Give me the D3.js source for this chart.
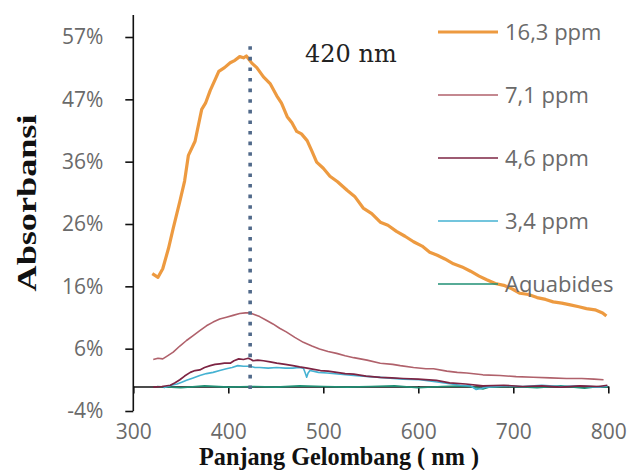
<!DOCTYPE html>
<html>
<head>
<meta charset="utf-8">
<script src="https://cdn.jsdelivr.net/npm/d3@7"></script>
<style>
  body { margin: 0; background: #fff; }
  svg { display: block; }
</style>
</head>
<body>
<div class="chart"></div>
<script>
// wavelength (nm) and absorbance per sample
var nm163 = [320, 326, 331, 337, 342, 349, 354, 358, 365, 372, 376, 381, 386, 390, 396, 402, 407, 412, 416, 419, 425, 430, 437, 444, 451, 456, 462, 467, 472, 477, 483, 488, 493, 500, 507, 515, 525, 533, 542, 551, 560, 568, 577, 586, 595, 604, 612, 620, 628, 637, 646, 655, 664, 672, 681, 690, 699, 707, 716, 725, 734, 742, 751, 760, 769, 777, 786, 794, 798];
var abs163 = [0.184, 0.178, 0.192, 0.225, 0.258, 0.302, 0.335, 0.377, 0.400, 0.452, 0.462, 0.483, 0.500, 0.514, 0.520, 0.528, 0.532, 0.538, 0.536, 0.539, 0.527, 0.520, 0.505, 0.494, 0.474, 0.462, 0.440, 0.430, 0.416, 0.412, 0.401, 0.384, 0.366, 0.356, 0.343, 0.334, 0.320, 0.310, 0.291, 0.282, 0.268, 0.263, 0.253, 0.245, 0.236, 0.229, 0.219, 0.214, 0.208, 0.200, 0.195, 0.188, 0.180, 0.174, 0.168, 0.165, 0.159, 0.152, 0.150, 0.145, 0.142, 0.138, 0.136, 0.133, 0.130, 0.127, 0.125, 0.120, 0.115];

var nm71 = [321, 326, 331, 336, 342, 349, 356, 363, 370, 377, 384, 391, 398, 405, 412, 418, 423, 428, 433, 440, 447, 454, 461, 470, 479, 488, 496, 505, 514, 523, 532, 546, 560, 573, 581, 595, 608, 616, 630, 641, 651, 668, 686, 703, 721, 739, 756, 772, 785, 795];
var abs71 = [0.044, 0.046, 0.045, 0.050, 0.056, 0.066, 0.075, 0.083, 0.091, 0.099, 0.105, 0.110, 0.113, 0.116, 0.119, 0.120, 0.120, 0.117, 0.114, 0.108, 0.102, 0.095, 0.089, 0.080, 0.072, 0.066, 0.061, 0.057, 0.054, 0.050, 0.047, 0.043, 0.038, 0.036, 0.034, 0.031, 0.029, 0.029, 0.025, 0.023, 0.022, 0.019, 0.018, 0.016, 0.015, 0.014, 0.013, 0.013, 0.012, 0.011];

var nm46 = [321, 330, 339, 344, 349, 354, 360, 365, 370, 375, 381, 386, 391, 396, 402, 406, 411, 416, 421, 424, 426, 431, 437, 444, 451, 460, 468, 475, 483, 490, 497, 505, 514, 523, 532, 545, 560, 572, 584, 600, 619, 633, 650, 668, 690, 710, 730, 750, 770, 790, 799];
var abs46 = [-0.001, 0.000, 0.002, 0.006, 0.011, 0.017, 0.023, 0.026, 0.027, 0.031, 0.034, 0.036, 0.037, 0.038, 0.038, 0.042, 0.045, 0.044, 0.046, 0.044, 0.042, 0.043, 0.042, 0.040, 0.038, 0.036, 0.034, 0.032, 0.030, 0.028, 0.026, 0.025, 0.023, 0.021, 0.020, 0.017, 0.015, 0.014, 0.013, 0.012, 0.010, 0.006, 0.004, 0.001, 0.002, 0.000, 0.001, -0.001, 0.001, 0.000, 0.002];

var nm34 = [332, 340, 346, 351, 356, 363, 370, 377, 384, 391, 398, 404, 410, 416, 423, 428, 433, 442, 451, 460, 468, 474, 479, 481, 482.5, 484, 486, 495, 504, 518, 532, 549, 567, 584, 602, 622, 644, 655, 661, 667, 672, 690, 710, 730, 750, 770, 790, 799];
var abs34 = [-0.002, 0.002, 0.004, 0.007, 0.010, 0.014, 0.018, 0.021, 0.023, 0.026, 0.029, 0.031, 0.034, 0.033, 0.033, 0.031, 0.031, 0.030, 0.031, 0.030, 0.030, 0.031, 0.030, 0.022, 0.015, 0.022, 0.026, 0.023, 0.022, 0.020, 0.018, 0.016, 0.014, 0.012, 0.011, 0.007, 0.002, 0.001, -0.005, -0.003, -0.001, 0.001, 0.000, 0.002, 0.000, 0.001, -0.001, 0.001];

var nmAq = [325, 350, 375, 400, 425, 450, 475, 500, 525, 550, 575, 600, 625, 650, 668, 675, 700, 725, 750, 775, 790, 799];
var absAq = [0.000, -0.002, 0.001, -0.001, 0.000, -0.001, 0.001, 0.000, -0.001, 0.000, 0.001, -0.002, 0.000, 0.001, -0.004, -0.001, 0.000, -0.002, 0.001, -0.003, 0.000, -0.001];

var seriesNames = ["16,3 ppm", "7,1 ppm", "4,6 ppm", "3,4 ppm", "Aquabides"];
var xTicks = [300, 400, 500, 600, 700, 800];
var yTickLabels = ["-4%", "6%", "16%", "26%", "36%", "47%", "57%"];
var peakNm = 423;
var peakLabel = "420 nm";

var width = 635, height = 470;

var series = [
  {name: seriesNames[0], nm: nm163, abs: abs163, color: "#ED9A40", w: 3.2},
  {name: seriesNames[1], nm: nm71, abs: abs71, color: "#B0616B", w: 1.6},
  {name: seriesNames[2], nm: nm46, abs: abs46, color: "#7D2443", w: 1.7},
  {name: seriesNames[3], nm: nm34, abs: abs34, color: "#45B2D2", w: 1.6},
  {name: seriesNames[4], nm: nmAq, abs: absAq, color: "#1F8F74", w: 1.6}
];

var svg = d3.select(".chart")
  .append("svg")
    .attr("width", width)
    .attr("height", height);

var x = d3.scaleLinear().domain([300, 800]).range([133.3, 608.3]);
var y = d3.scaleLinear().domain([-0.04, 0.57]).range([411, 37]);

var yTickVals = d3.range(yTickLabels.length).map(function(i) {
  return -0.04 + i * (0.61 / (yTickLabels.length - 1));
});

// y axis
var yAxis = svg.append("g")
  .attr("transform", "translate(" + x(300) + ",0)")
  .call(d3.axisLeft(y)
    .tickValues(yTickVals)
    .tickFormat(function(d, i) { return yTickLabels[i]; })
    .tickSize(8)
    .tickSizeOuter(0)
    .tickPadding(22));
yAxis.select(".domain").remove();
yAxis.selectAll("line").attr("stroke", "#111").attr("stroke-width", 1.6);
yAxis.selectAll("text")
  .style("font-family", "'Open Sans', sans-serif")
  .style("font-size", "21px")
  .attr("fill", "#6a6a6a");

svg.append("line")
  .attr("x1", x(300)).attr("x2", x(300))
  .attr("y1", 15).attr("y2", y(-0.04))
  .attr("stroke", "#111")
  .attr("stroke-width", 1.6);

// x axis on the zero line
var xAxis = svg.append("g")
  .attr("transform", "translate(0," + y(0) + ")")
  .call(d3.axisBottom(x)
    .tickValues(xTicks)
    .tickSize(7)
    .tickSizeOuter(0)
    .tickPadding(31));
xAxis.select(".domain").attr("stroke", "#111").attr("stroke-width", 1.6);
xAxis.selectAll("line").attr("stroke", "#111").attr("stroke-width", 1.6);
xAxis.selectAll("text")
  .style("font-family", "'Open Sans', sans-serif")
  .style("font-size", "21px")
  .attr("fill", "#6a6a6a");

// spectra
var line = d3.line()
  .x(function(d) { return x(d[0]); })
  .y(function(d) { return y(d[1]); });

svg.selectAll(".spectrum")
  .data(series.slice().reverse())
  .enter().append("path")
    .attr("class", "spectrum")
    .attr("d", function(s) { return line(d3.zip(s.nm, s.abs)); })
    .attr("fill", "none")
    .attr("stroke", function(s) { return s.color; })
    .attr("stroke-width", function(s) { return s.w; })
    .attr("stroke-linejoin", "round");

// peak marker
svg.append("line")
  .attr("x1", x(peakNm)).attr("x2", x(peakNm))
  .attr("y1", y(0.555)).attr("y2", y(-0.005))
  .attr("stroke", "#50698A")
  .attr("stroke-width", 3.6)
  .attr("stroke-dasharray", "3.6,7");

svg.append("text")
  .attr("x", 305)
  .attr("y", 62)
  .style("font-family", "'DejaVu Serif', serif")
  .style("font-size", "24px")
  .attr("fill", "#222")
  .text(peakLabel);

// legend
var legend = svg.selectAll(".legend")
  .data(series)
  .enter().append("g")
    .attr("class", "legend")
    .attr("transform", function(d, i) { return "translate(438," + (32 + i * 63) + ")"; });

legend.append("line")
  .attr("x1", 0).attr("x2", 60)
  .attr("stroke", function(d) { return d.color; })
  .attr("stroke-width", function(d) { return d.w; });

legend.append("text")
  .attr("x", 67)
  .attr("dy", "0.35em")
  .style("font-family", "'Open Sans', sans-serif")
  .style("font-size", "22px")
  .attr("fill", "#6a6a6a")
  .text(function(d) { return d.name; });

// axis titles
svg.append("text")
  .attr("x", 339)
  .attr("y", 465)
  .attr("text-anchor", "middle")
  .attr("textLength", 280)
  .attr("lengthAdjust", "spacingAndGlyphs")
  .style("font-family", "'Liberation Serif', serif")
  .style("font-weight", "bold")
  .style("font-size", "25px")
  .attr("fill", "#111")
  .text("Panjang Gelombang ( nm )");

svg.append("text")
  .attr("transform", "translate(36,203) rotate(-90)")
  .attr("text-anchor", "middle")
  .attr("textLength", 177)
  .attr("lengthAdjust", "spacingAndGlyphs")
  .style("font-family", "'Liberation Serif', serif")
  .style("font-weight", "bold")
  .style("font-size", "27px")
  .attr("fill", "#111")
  .text("Absorbansi");
</script>
</body>
</html>
